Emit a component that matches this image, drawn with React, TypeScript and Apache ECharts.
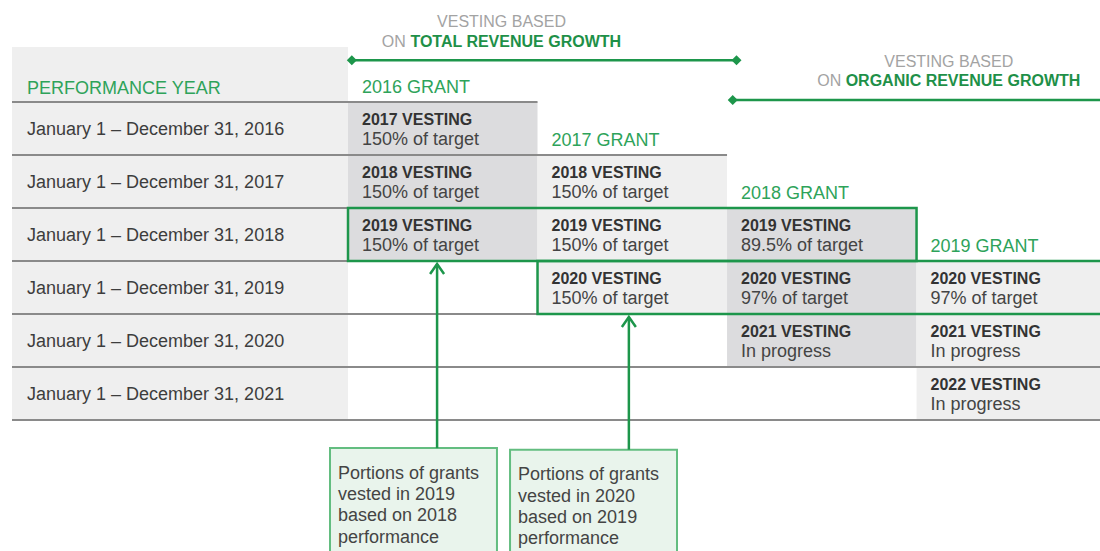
import React, { useEffect, useRef } from "react";
import * as echarts from "echarts";

// ---------- DATA ----------
const headerTitle = "PERFORMANCE YEAR";
const performanceYears = [
  "January 1 – December 31, 2016",
  "January 1 – December 31, 2017",
  "January 1 – December 31, 2018",
  "January 1 – December 31, 2019",
  "January 1 – December 31, 2020",
  "January 1 – December 31, 2021",
];
const grantLabels = ["2016 GRANT", "2017 GRANT", "2018 GRANT", "2019 GRANT"];
// each vesting cell: grant column index, performance-year row (1-based)
const vestingGrant = [0, 0, 0, 1, 1, 1, 2, 2, 2, 3, 3, 3];
const vestingRow = [1, 2, 3, 2, 3, 4, 3, 4, 5, 4, 5, 6];
const vestingTitles = [
  "2017 VESTING", "2018 VESTING", "2019 VESTING",
  "2018 VESTING", "2019 VESTING", "2020 VESTING",
  "2019 VESTING", "2020 VESTING", "2021 VESTING",
  "2020 VESTING", "2021 VESTING", "2022 VESTING",
];
const vestingResults = [
  "150% of target", "150% of target", "150% of target",
  "150% of target", "150% of target", "150% of target",
  "89.5% of target", "97% of target", "In progress",
  "97% of target", "In progress", "In progress",
];
// highlighted performance years (row, first grant col, last grant col + 1)
const highlightRows = [3, 4];
const highlightFrom = [0, 1];
const highlightTo = [3, 4];
const calloutTexts = [
  "Portions of grants\nvested in 2019\nbased on 2018\nperformance",
  "Portions of grants\nvested in 2020\nbased on 2019\nperformance",
];
const calloutSourceRows = [3, 4];
const basisTitles = ["VESTING BASED", "VESTING BASED"];
const basisPrefix = ["ON ", "ON "];
const basisMetrics = ["TOTAL REVENUE GROWTH", "ORGANIC REVENUE GROWTH"];

// ---------- LAYOUT (positions & styles) ----------
const X_MIN = -1.773;
const X_MAX = 3.968;
const COL_END = 4;
const Y_MAX = 7;
const calloutLayout = [
  { arrowX: 0.47, left: -0.095, right: 0.786, top: 7.53 },
  { arrowX: 1.482, left: 0.855, right: 1.736, top: 7.56 },
];
const basisLayout = [
  { from: 0.02, to: 2.05, center: 0.81, lineRow: 0.21, diamonds: [true, true] },
  { from: 2.03, to: X_MAX, center: 3.17, lineRow: 0.96, diamonds: [true, false] },
];
const FONT = "'Liberation Sans', Arial, Helvetica, sans-serif";
const GREEN = "#1d964b";
const GREEN_TEXT = "#2ea35a";
const DARK_CELL = "#dcdcde";
const LIGHT_CELL = "#efefef";
const ROW_LINE = "#8a8a8a";

function diamond(cx: number, cy: number, r: number) {
  return [[cx - r, cy], [cx, cy - r], [cx + r, cy], [cx, cy + r]];
}

export default function App() {
  const ref = useRef<HTMLDivElement>(null);
  useEffect(() => {
    if (!ref.current) return;
    const chart = echarts.init(ref.current, undefined, { renderer: "svg" });

    const background = {
      type: "custom",
      clip: false,
      z: 1,
      data: [[X_MIN, 0]],
      renderItem: (_p: any, api: any) => {
        const a = api.coord([X_MIN, -0.04]);
        const b = api.coord([0, Y_MAX]);
        return {
          type: "group",
          children: [
            { type: "rect", shape: { x: a[0], y: a[1], width: b[0] - a[0], height: b[1] - a[1] }, style: { fill: LIGHT_CELL } },
            {
              type: "text",
              style: {
                text: headerTitle, x: a[0] + 15, y: api.coord([0, 0.74])[1],
                fill: GREEN_TEXT, font: `18px ${FONT}`, verticalAlign: "middle",
              },
            },
          ],
        };
      },
    };

    const cells = {
      type: "custom",
      clip: false,
      z: 2,
      data: vestingGrant.map((g, i) => [g, vestingRow[i]]),
      renderItem: (p: any, api: any) => {
        const g = api.value(0);
        const r = api.value(1);
        const a = api.coord([g, r]);
        const b = api.coord([g + 1, r + 1]);
        return {
          type: "group",
          children: [
            { type: "rect", shape: { x: a[0], y: a[1], width: b[0] - a[0], height: b[1] - a[1] }, style: { fill: g % 2 === 0 ? DARK_CELL : LIGHT_CELL } },
            { type: "text", style: { text: vestingTitles[p.dataIndex], x: a[0] + 14, y: a[1] + 17, fill: "#333", font: `bold 16px ${FONT}`, verticalAlign: "middle" } },
            { type: "text", style: { text: vestingResults[p.dataIndex], x: a[0] + 14, y: a[1] + 37, fill: "#444", font: `18px ${FONT}`, verticalAlign: "middle" } },
          ],
        };
      },
    };

    const yearLabels = {
      type: "custom",
      clip: false,
      z: 3,
      data: performanceYears.map((_, i) => [X_MIN, i + 1]),
      renderItem: (p: any, api: any) => {
        const a = api.coord([X_MIN, api.value(1) + 0.5]);
        return { type: "text", style: { text: performanceYears[p.dataIndex], x: a[0] + 15, y: a[1], fill: "#3d3d3d", font: `18px ${FONT}`, verticalAlign: "middle" } };
      },
    };

    const grantHeaders = {
      type: "custom",
      clip: false,
      z: 3,
      data: grantLabels.map((_, i) => [i, i]),
      renderItem: (p: any, api: any) => {
        const a = api.coord([api.value(0), api.value(1) + 0.71]);
        return { type: "text", style: { text: grantLabels[p.dataIndex], x: a[0] + 14, y: a[1], fill: GREEN_TEXT, font: `18px ${FONT}`, verticalAlign: "middle" } };
      },
    };

    const rowLines = {
      type: "custom",
      clip: false,
      z: 4,
      data: performanceYears.map((_, i) => [i + 1]),
      renderItem: (_p: any, api: any) => {
        const k = api.value(0);
        const a = api.coord([X_MIN, k]);
        const b = api.coord([Math.min(k, X_MAX), k]);
        return { type: "line", shape: { x1: a[0], y1: a[1], x2: b[0], y2: b[1] }, style: { stroke: ROW_LINE, lineWidth: 2 } };
      },
    };
    // closing line below the last row
    const bottomLine = {
      type: "custom",
      clip: false,
      z: 4,
      data: [[Y_MAX]],
      renderItem: (_p: any, api: any) => {
        const a = api.coord([X_MIN, api.value(0)]);
        const b = api.coord([X_MAX, api.value(0)]);
        return { type: "line", shape: { x1: a[0], y1: a[1], x2: b[0], y2: b[1] }, style: { stroke: ROW_LINE, lineWidth: 2 } };
      },
    };

    const highlights = {
      type: "custom",
      clip: false,
      z: 5,
      data: highlightRows.map((r, i) => [highlightFrom[i], r, highlightTo[i]]),
      renderItem: (_p: any, api: any) => {
        const a = api.coord([api.value(0), api.value(1)]);
        const b = api.coord([Math.min(api.value(2), COL_END), api.value(1) + 1]);
        return { type: "rect", shape: { x: a[0], y: a[1], width: b[0] - a[0], height: b[1] - a[1] }, style: { fill: "none", stroke: GREEN, lineWidth: 2.5 } };
      },
    };

    const callouts = {
      type: "custom",
      clip: false,
      z: 6,
      data: calloutSourceRows.map((r, i) => [calloutLayout[i].arrowX, r + 1]),
      renderItem: (p: any, api: any) => {
        const L = calloutLayout[p.dataIndex];
        const start = api.coord([api.value(0), api.value(1)]);
        const tl = api.coord([L.left, L.top]);
        const br = api.coord([L.right, 9.8]);
        const ax = start[0];
        const ay = start[1] + 2;
        return {
          type: "group",
          children: [
            { type: "rect", shape: { x: tl[0], y: tl[1], width: br[0] - tl[0], height: br[1] - tl[1] }, style: { fill: "#e9f4ec", stroke: "#63bd80", lineWidth: 2 } },
            { type: "line", shape: { x1: ax, y1: ay + 1, x2: ax, y2: tl[1] }, style: { stroke: GREEN, lineWidth: 2.5 } },
            { type: "polyline", shape: { points: [[ax - 7, ay + 11], [ax, ay + 1], [ax + 7, ay + 11]] }, style: { stroke: GREEN, lineWidth: 2.5, fill: "none" } },
            { type: "text", style: { text: calloutTexts[p.dataIndex], x: tl[0] + 8, y: tl[1] + 14, fill: "#444", font: `18px ${FONT}`, lineHeight: 21.3, verticalAlign: "top" } },
          ],
        };
      },
    };

    const basis = {
      type: "custom",
      clip: false,
      z: 6,
      data: basisLayout.map((b) => [b.from, b.lineRow, b.to]),
      renderItem: (p: any, api: any) => {
        const L = basisLayout[p.dataIndex];
        const a = api.coord([api.value(0), api.value(1)]);
        const b = api.coord([api.value(2), api.value(1)]);
        const c1 = api.coord([L.center, L.lineRow - 0.73]);
        const c2 = api.coord([L.center, L.lineRow - 0.36]);
        const children: any[] = [
          { type: "line", shape: { x1: a[0], y1: a[1], x2: b[0], y2: b[1] }, style: { stroke: GREEN, lineWidth: 2.5 } },
          { type: "text", style: { text: basisTitles[p.dataIndex], x: c1[0], y: c1[1], fill: "#a3a3a3", font: `16px ${FONT}`, align: "center", verticalAlign: "middle" } },
          {
            type: "text",
            style: {
              text: `{a|${basisPrefix[p.dataIndex]}}{b|${basisMetrics[p.dataIndex]}}`,
              x: c2[0], y: c2[1], align: "center", verticalAlign: "middle",
              rich: {
                a: { fill: "#a3a3a3", fontSize: 16, fontFamily: FONT },
                b: { fill: "#1e9048", fontSize: 16, fontWeight: "bold", fontFamily: FONT },
              },
            },
          },
        ];
        if (L.diamonds[0]) children.push({ type: "polygon", shape: { points: diamond(a[0], a[1], 5) }, style: { fill: GREEN } });
        if (L.diamonds[1]) children.push({ type: "polygon", shape: { points: diamond(b[0], b[1], 5) }, style: { fill: GREEN } });
        return { type: "group", children };
      },
    };

    chart.setOption({
      animation: false,
      backgroundColor: "#ffffff",
      grid: { left: 12, right: 0, top: 49, bottom: 131 },
      xAxis: { type: "value", min: X_MIN, max: X_MAX, show: false, splitLine: { show: false } },
      yAxis: { type: "value", min: 0, max: Y_MAX, inverse: true, show: false, splitLine: { show: false } },
      series: [background, cells, yearLabels, grantHeaders, rowLines, bottomLine, highlights, callouts, basis],
    });
    return () => chart.dispose();
  }, []);
  return (
    <div
      ref={ref}
      style={{ position: "fixed", left: 0, top: 0, width: 1100, height: 551, background: "#fff" }}
    />
  );
}
